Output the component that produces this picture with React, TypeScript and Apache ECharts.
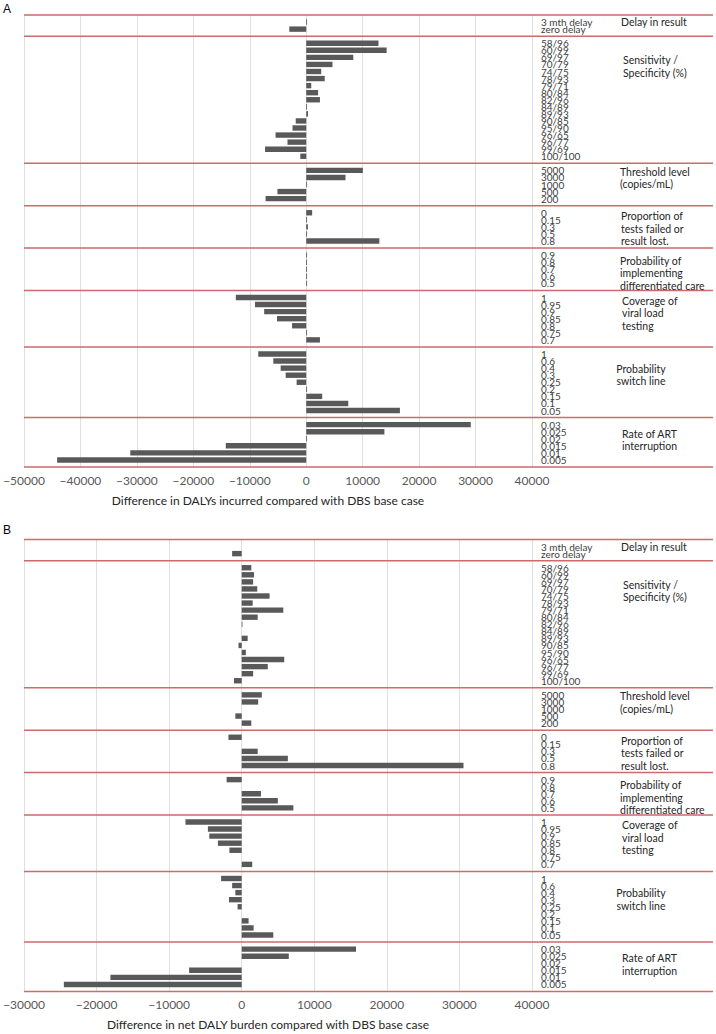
import React, { useEffect, useRef } from "react";
import * as echarts from "echarts";

// ---- categories (per parameter group) ----
const delayCats = ["3 mth delay", "zero delay"];
const sensCats = ["58/96", "60/99", "69/97", "70/79", "74/75", "78/93", "79/71", "80/84", "82/96", "84/89", "89/93", "90/85", "95/90", "96/65", "96/77", "99/69", "100/100"];
const thresholdCats = ["5000", "3000", "1000", "500", "200"];
const failedCats = ["0", "0.15", "0.3", "0.5", "0.8"];
const careCats = ["0.9", "0.8", "0.7", "0.6", "0.5"];
const coverageCats = ["1", "0.95", "0.9", "0.85", "0.8", "0.75", "0.7"];
const switchCats = ["1", "0.6", "0.4", "0.3", "0.25", "0.2", "0.15", "0.1", "0.05"];
const artCats = ["0.03", "0.025", "0.02", "0.015", "0.01", "0.005"];

const groupTitles = [
  "Delay in result",
  "Sensitivity /\nSpecificity (%)",
  "Threshold level\n(copies/mL)",
  "Proportion of\ntests failed or\nresult lost.",
  "Probability of\nimplementing\ndifferentiated care",
  "Coverage of\nviral load\ntesting",
  "Probability\nswitch line",
  "Rate of ART\ninterruption",
];

// ---- Panel A: difference in DALYs incurred ----
const dalyDelay = [150, -3000];
const dalySens = [12800, 14250, 8340, 4650, 2660, 3280, 890, 2100, 2430, 150, 320, -1860, -2430, -5430, -3320, -7290, -1050];
const dalyThreshold = [10040, 6960, 150, -5100, -7200];
const dalyFailed = [1050, 150, 300, 150, 12960];
const dalyCare = [150, 150, 150, 150, 150];
const dalyCoverage = [-12470, -9070, -7450, -5180, -2510, 150, 2430];
const dalySwitch = [-8500, -5830, -4530, -3640, -1700, 150, 2830, 7450, 16600];
const dalyArt = [29150, 13850, 150, -14250, -31170, -44130];

// ---- Panel B: difference in net DALY burden ----
const netDelay = [0, -1320];
const netSens = [1320, 1700, 1575, 2140, 3840, 1510, 5730, 2200, 100, 0, 820, -440, 570, 5860, 3590, 1575, -1070];
const netThreshold = [2770, 2270, 0, -880, 1320];
const netFailed = [-1830, 0, 2200, 6360, 30560];
const netCare = [-2080, 0, 2650, 4980, 7120];
const netCoverage = [-7750, -4660, -4470, -3280, -1700, 0, 1450];
const netSwitch = [-2840, -1320, -880, -1760, -570, 0, 950, 1640, 4350];
const netArt = [15750, 6490, 0, -7250, -18090, -24510];

// ---- axis ticks ----
const xTicksA = { min: -50000, max: 40000, interval: 10000 };
const xTicksB = { min: -30000, max: 40000, interval: 10000 };
const axisTitleA = "Difference in DALYs incurred compared with DBS base case";
const axisTitleB = "Difference in net DALY burden compared with DBS base case";

const groupCats = [delayCats, sensCats, thresholdCats, failedCats, careCats, coverageCats, switchCats, artCats];
const groupsA = [dalyDelay, dalySens, dalyThreshold, dalyFailed, dalyCare, dalyCoverage, dalySwitch, dalyArt];
const groupsB = [netDelay, netSens, netThreshold, netFailed, netCare, netCoverage, netSwitch, netArt];

// build category list with separator rows between groups
function buildRows() {
  const cats: string[] = [""];
  const seps: number[] = [0];
  const starts: number[] = [];
  groupCats.forEach((g) => {
    starts.push(cats.length);
    g.forEach((c) => cats.push(c));
    seps.push(cats.length);
    cats.push("");
  });
  return { cats, seps, starts };
}
function buildValues(groups: number[][]) {
  const vals: (number | null)[] = [null];
  groups.forEach((g) => {
    g.forEach((v) => vals.push(v));
    vals.push(null);
  });
  return vals;
}

const ROWS = buildRows();
const valsA = buildValues(groupsA);
const valsB = buildValues(groupsB);

// title layout (first-line centre, in rows from the group's first row)
const titleRowOffset = [0, 2.4, 0.2, 0.5, 0.8, 0.45, 2.1, 1.3];
const titleX = [621, 623, 620, 621, 620, 622, 641, 649.5];
const titleAlign = ["left", "left", "left", "left", "left", "left", "center", "center"];
const TITLE_LH = 12.5;

const FONT = "Lato, 'Open Sans', sans-serif";
const RED = "#cd6a6a";

const fmt = (v: number) => (v < 0 ? "\u2212" + Math.abs(v) : String(v));

function xAxisFor(idx: number, t: { min: number; max: number; interval: number }, title: string) {
  return {
    type: "value",
    gridIndex: idx,
    min: t.min,
    max: t.max,
    interval: t.interval,
    axisLine: { show: false },
    axisTick: { show: false },
    splitLine: { show: true, lineStyle: { color: "#e0e0e0", width: 1 } },
    axisLabel: { formatter: fmt, color: "#595959", fontSize: 12, fontFamily: FONT, margin: 7 },
    name: title,
    nameLocation: "middle",
    nameGap: 27,
    nameTextStyle: { color: "#262626", fontSize: 12, fontFamily: FONT, padding: [0, 20, 0, 0] },
  };
}

function yAxisFor(idx: number) {
  return {
    type: "category",
    gridIndex: idx,
    data: ROWS.cats,
    inverse: true,
    boundaryGap: false,
    position: "right",
    axisLine: { show: false },
    axisTick: { show: false },
    splitLine: { show: false },
    axisLabel: { interval: 0, margin: 9, fontSize: 10, fontFamily: FONT, color: "#404040" },
  };
}

const PANEL_TOP = [15, 539.5];
const PANEL_H = 452;

const option: any = {
  animation: false,
  backgroundColor: "#ffffff",
  grid: [
    { left: 24, width: 508, top: PANEL_TOP[0], height: PANEL_H, containLabel: false },
    { left: 24, width: 508, top: PANEL_TOP[1], height: PANEL_H, containLabel: false },
  ],
  xAxis: [xAxisFor(0, xTicksA, axisTitleA), xAxisFor(1, xTicksB, axisTitleB)],
  yAxis: [yAxisFor(0), yAxisFor(1)],
  series: [
    { type: "bar", xAxisIndex: 0, yAxisIndex: 0, data: valsA, barWidth: 5.4, itemStyle: { color: "#595959" }, silent: true },
    { type: "bar", xAxisIndex: 1, yAxisIndex: 1, data: valsB, barWidth: 5.4, itemStyle: { color: "#595959" }, silent: true },
  ],
};

export default function App() {
  const ref = useRef<HTMLDivElement>(null);
  useEffect(() => {
    if (!ref.current) return;
    document.body.style.margin = "0";
    const chart = echarts.init(ref.current, null, { renderer: "svg" });
    chart.setOption(option);
    const gfx: any[] = [];
    [0, 1].forEach((p) => {
      const y0 = chart.convertToPixel({ yAxisIndex: p }, 0) as number;
      const y1 = chart.convertToPixel({ yAxisIndex: p }, 1) as number;
      const pitch = y1 - y0;
      const xl = chart.convertToPixel({ xAxisIndex: p }, p === 0 ? xTicksA.min : xTicksB.min) as number;
      ROWS.seps.forEach((i) => {
        const y = y0 + i * pitch;
        gfx.push({
          type: "line",
          z: 100,
          shape: { x1: xl, y1: y, x2: 713, y2: y },
          style: { stroke: RED, lineWidth: 1.5 },
          silent: true,
        });
      });
      groupTitles.forEach((t, g) => {
        const yc = y0 + (ROWS.starts[g] + titleRowOffset[g]) * pitch;
        gfx.push({
          type: "text",
          z: 100,
          x: titleX[g],
          y: yc - TITLE_LH / 2,
          style: {
            text: t,
            fontSize: 10.5,
            fontFamily: FONT,
            fill: "#262626",
            align: titleAlign[g],
            verticalAlign: "top",
            lineHeight: TITLE_LH,
          },
          silent: true,
        });
      });
      gfx.push({
        type: "text",
        x: 3,
        y: p === 0 ? 3 : 524,
        style: { text: p === 0 ? "A" : "B", fontSize: 12, fontFamily: "'Liberation Sans', Arial, sans-serif", fill: "#000" },
        silent: true,
      });
    });
    chart.setOption({ graphic: gfx });
    return () => chart.dispose();
  }, []);
  return <div ref={ref} style={{ position: "absolute", left: 0, top: 0, width: 716, height: 1034 }} />;
}
